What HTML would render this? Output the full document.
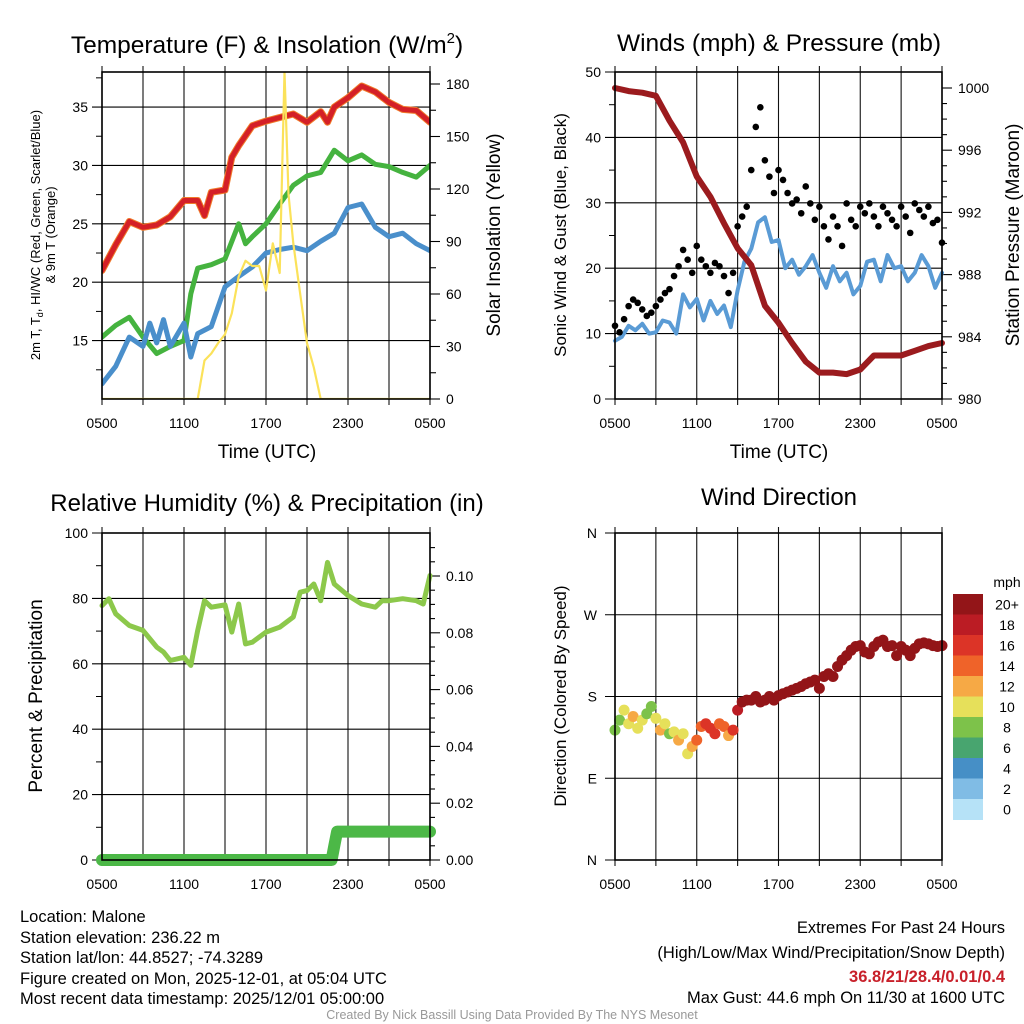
<!DOCTYPE html>
<html><head><meta charset="utf-8"><style>
html,body{margin:0;padding:0;background:#fff;}
svg{display:block;font-family:"Liberation Sans",Arial,sans-serif;}
</style></head><body>
<svg id="chart" width="1024" height="1024" viewBox="0 0 1024 1024" xmlns="http://www.w3.org/2000/svg">
<rect width="1024" height="1024" fill="#fff"/>
<g id="g1"></g>
<g id="g2"></g>
<g id="g3"></g>
<g id="g4"></g>
<g font-size="16.5" fill="#000">
<text x="20" y="922">Location: Malone</text>
<text x="20" y="943">Station elevation: 236.22 m</text>
<text x="20" y="963">Station lat/lon: 44.8527; -74.3289</text>
<text x="20" y="984">Figure created on Mon, 2025-12-01, at 05:04 UTC</text>
<text x="20" y="1004">Most recent data timestamp: 2025/12/01 05:00:00</text>
<text x="1005" y="933" text-anchor="end">Extremes For Past 24 Hours</text>
<text x="1005" y="958" text-anchor="end">(High/Low/Max Wind/Precipitation/Snow Depth)</text>
<text x="1005" y="982" text-anchor="end" fill="#c8202a" font-weight="bold">36.8/21/28.4/0.01/0.4</text>
<text x="1005" y="1003" text-anchor="end">Max Gust: 44.6 mph On 11/30 at 1600 UTC</text>
<text x="512" y="1019" text-anchor="middle" font-size="12.5" fill="#999">Created By Nick Bassill Using Data Provided By The NYS Mesonet</text>
</g>
</svg>
<script>
// ---- data ----
const xTickLabels = ["0500","1100","1700","2300","0500"];
const tHours = [0,1,2,3,4,5,6,7,7.5,8,9,9.5,10,11,12,13,14,15,16,16.5,17,18,19,20,21,22,23,24];
const tempRed = [21.0,23.2,25.2,24.7,24.9,25.6,27.0,27.0,25.7,27.7,27.9,30.7,31.7,33.4,33.8,34.1,34.4,33.7,34.6,33.7,35.0,35.8,36.8,36.3,35.4,34.8,34.7,33.7];
const gHours = [0,1,2,3,4,5,6,6.5,7,8,9,10,10.5,11,12,13,14,15,16,17,18,19,20,21,22,23,24];
const tempGreen = [15.3,16.3,17.0,15.3,13.9,14.5,15.0,19.0,21.2,21.5,22.0,25.0,23.3,23.9,25.0,26.7,28.3,29.1,29.4,31.3,30.4,30.9,30.1,29.9,29.4,29.0,30.0];
const bHours = [0,1,2,3,3.5,4,4.5,5,6,6.5,7,8,9,10,11,12,13,14,15,16,17,18,19,20,21,22,23,24];
const tempBlue = [11.3,12.8,15.3,14.5,16.5,14.8,16.8,14.5,16.5,13.6,15.6,16.2,19.6,20.5,21.3,22.5,22.8,23.0,22.7,23.5,24.2,26.4,26.7,24.7,23.9,24.2,23.3,22.7];
const sHours = [0,7,7.5,8,8.5,9,9.5,10,10.5,11,11.5,12,12.5,13,13.35,13.65,14,14.5,15,15.5,16,24];
const solar = [0,0,22,26,32,37,49,70,79,76,76,62,89,72,187,117,89,60,32,18,0,0];
const tempTicks = [15,20,25,30,35];
const solarTicks = [0,30,60,90,120,150,180];

const windHours = Array.from({length:49},(_,i)=>i/2);
const windSonic = [8.9,9.5,11.2,10.5,11.5,10,10.2,12,11.7,10,16,14,15.3,12,15,13,14.3,11,16.6,21,23,27,27.8,24,24.3,20,21.3,19,20.3,22,19.3,17,20.3,18,19.3,16,17.3,21,21.3,18,22,20,20.3,18,19.3,22,20.3,17,19.3];
const gustHours = Array.from({length:73},(_,i)=>i/3);
const windGust = [11.2,10.2,12.2,14.2,15.2,14.7,13.7,12.7,13.2,14.2,15.2,16.2,16.8,18.8,20.3,22.8,21.3,19.3,23.4,21.3,20.3,19.3,20.8,20.3,18.8,16.2,19.3,26.4,27.9,29.4,35.0,41.6,44.6,36.5,34.0,31.5,35.0,33.5,31.5,29.9,30.5,28.4,32.5,29.9,27.4,29.4,26.4,24.4,27.9,26.4,23.4,29.9,27.4,26.4,29.4,28.4,29.9,27.9,26.4,29.4,28.4,27.4,26.4,29.4,27.9,25.4,29.9,28.9,27.9,29.4,26.9,27.4,23.9];
const presHours = Array.from({length:25},(_,i)=>i);
const pressure = [1000,999.8,999.7,999.5,997.9,996.5,994.3,993.0,991.3,989.7,988.6,986.0,984.9,983.6,982.4,981.7,981.7,981.6,981.9,982.8,982.8,982.8,983.1,983.4,983.6];
const windTicks = [0,10,20,30,40,50];
const presTicks = [980,984,988,992,996,1000];

const rhHours = [0,0.5,1,2,3,4,4.5,5,6,6.5,7,7.5,8,9,9.5,10,10.5,11,12,13,14,14.5,15,15.5,16,16.5,17,18,19,20,20.5,21,22,23,23.5,24];
const rh = [77.8,79.9,75.3,71.7,70.2,65.1,63.6,61,62,59.5,70.2,79.3,77.3,78,69.7,78.3,66.1,66.6,69.7,71.2,74.3,81.9,82.4,84.4,79.3,91,84.4,80.9,78.3,77.3,79.3,79.3,79.9,79.3,78.3,87];
const precipHours = [0,16.8,17.0,17.2,24];
const precip = [0,0,0.005,0.01,0.01];
const rhTicks = [0,20,40,60,80,100];
const precipTicks = [0,0.02,0.04,0.06,0.08,0.10];

const dirHours = Array.from({length:73},(_,i)=>i/3);
const direction = [143,154,165,150,158,145,154,161,169,156,143,150,139,141,132,139,117,125,132,147,150,145,139,150,147,137,143,165,174,176,176,180,174,176,180,176,181,183,185,187,189,191,194,196,198,189,202,205,202,213,220,225,231,235,236,229,227,235,240,242,235,236,225,235,231,225,233,238,239,238,236,235,236];
const dirSpeed = [7,8,9,10,11,9,10,8,7,10,12,9,8,10,11,9,10,11,13,14,15,16,15,13,14,12,15,18,21,22,21,23,22,21,22,23,22,21,22,23,24,22,21,22,23,22,21,22,23,22,21,19,20,22,23,22,21,22,23,22,21,22,23,22,21,22,23,22,21,22,23,22,22];
const dirTickLabels = ["N","E","S","W","N"];
const cbLabels = ["20+","18","16","14","12","10","8","6","4","2","0"];
const cbColors = ["#931518","#bb1c24","#dc3427","#ef6329","#f6a945","#e6e05a","#7dc24a","#48a56f","#468fc6","#80bce5","#b6e2f7"];

// ---- helpers ----
const NS="http://www.w3.org/2000/svg";
function mk(parent,tag,attrs,text){const e=document.createElementNS(NS,tag);for(const k in attrs)e.setAttribute(k,attrs[k]);if(text!==undefined)e.textContent=text;parent.appendChild(e);return e;}
function lin(d0,d1,r0,r1){return v=>r0+(v-d0)/(d1-d0)*(r1-r0);}
function pathD(xs,ys,fx,fy){return xs.map((h,i)=>(i?"L":"M")+fx(h).toFixed(1)+","+fy(ys[i]).toFixed(1)).join("");}

function frame(g,L,R,T,B,fx,xlabels){
  for(let h=0;h<=24;h+=3){const x=fx(h);
    const gl=mk(g,"line",{x1:x,x2:x,y1:T-6,y2:B+6,stroke:"#111","stroke-width":1.1});
    
    }
  xlabels.forEach((t,i)=>{const tl=mk(g,"text",{x:fx(i*6),y:B+29,"text-anchor":"middle","font-size":14},t);
    
    });
}
function border(g,L,R,T,B){
  const r=mk(g,"rect",{x:L,y:T,width:R-L,height:B-T,fill:"none",stroke:"#000","stroke-width":1.6});
  
  
}
function hgrid(g,L,R,y,ext){const l=mk(g,"line",{x1:L-ext,x2:R,y1:y,y2:y,stroke:"#000","stroke-width":1.1});
  
  }
function rtick(g,R,y,len){mk(g,"line",{x1:R,x2:R+len,y1:y,y2:y,stroke:"#000","stroke-width":1.1});}
function ltick(g,L,y,len){mk(g,"line",{x1:L-len,x2:L,y1:y,y2:y,stroke:"#000","stroke-width":1});}
function ttl(g,x,y,txt,size,name,rot){const a={x:x,y:y,"text-anchor":"middle","font-size":size};if(rot)a.transform="rotate(-90 "+x+" "+y+")";const t=mk(g,"text",a,txt);return t;}

// ---- panel 1 ----
(function(){
  const g=document.getElementById("g1");const L=102,R=430,T=72,B=399;
  const fx=lin(0,24,L,R),fy=lin(10,38,B,T),fs=lin(0,180,B,84);
  frame(g,L,R,T,B,fx,xTickLabels);
  tempTicks.forEach(v=>{hgrid(g,L,R,fy(v),10);const t=mk(g,"text",{x:L-14,y:fy(v)+5,"text-anchor":"end","font-size":14},v);});
  for(let v=12.5;v<38;v+=5)ltick(g,L,fy(v),6);
  solarTicks.forEach(v=>{rtick(g,R,fs(v),10);const t=mk(g,"text",{x:R+16,y:fs(v)+5,"font-size":14},v);});
  for(let v=15;v<190;v+=15)if(v%30)rtick(g,R,fs(v),6);
  const cp=mk(g,"clipPath",{id:"c1"});mk(cp,"rect",{x:L,y:T,width:R-L,height:B-T});
  const pg=mk(g,"g",{"clip-path":"url(#c1)","fill":"none","stroke-linejoin":"round","stroke-linecap":"round"});
  let p=mk(pg,"path",{d:pathD(tHours,tempRed,fx,fy),stroke:"#f07a2a","stroke-width":7});
  p=mk(pg,"path",{d:pathD(tHours,tempRed,fx,fy),stroke:"#d42027","stroke-width":5});
  p=mk(pg,"path",{d:pathD(gHours,tempGreen,fx,fy),stroke:"#45b33f","stroke-width":5});
  p=mk(pg,"path",{d:pathD(bHours,tempBlue,fx,fy),stroke:"#4a8fcb","stroke-width":5});
  p=mk(pg,"path",{d:pathD(sHours,solar,fx,fs),stroke:"#fbe25a","stroke-width":2.2});
  border(g,L,R,T,B);
  const t=mk(g,"text",{x:267,y:53,"text-anchor":"middle","font-size":24.5});t.innerHTML='Temperature (F) &amp; Insolation (W/m<tspan font-size="15" dy="-10">2</tspan><tspan dy="10">)</tspan>';
  
  ttl(g,267,458,"Time (UTC)",19,"x-axis-title");
  const a=ttl(g,40,235,"",13,"temp-axis-title",true);
  a.innerHTML='2m T, T<tspan font-size="9" dy="3">d</tspan><tspan dy="-3">, HI/WC (Red, Green, Scarlet/Blue)</tspan>';
  ttl(g,55,235,"& 9m T (Orange)",13,"temp-axis-title-2",true);
  ttl(g,500,235,"Solar Insolation (Yellow)",19,"solar-axis-title",true);
})();

// ---- panel 2 ----
(function(){
  const g=document.getElementById("g2");const L=615,R=942,T=72,B=399;
  const fx=lin(0,24,L,R),fy=lin(0,50,B,T),fp=lin(980,1000,B,88);
  frame(g,L,R,T,B,fx,xTickLabels);
  windTicks.forEach(v=>{hgrid(g,L,R,fy(v),10);const t=mk(g,"text",{x:L-14,y:fy(v)+5,"text-anchor":"end","font-size":14},v);});
  for(let v=5;v<50;v+=10)ltick(g,L,fy(v),6);
  presTicks.forEach(v=>{rtick(g,R,fp(v),10);const t=mk(g,"text",{x:R+16,y:fp(v)+5,"font-size":14},v);});
  for(let v=981;v<1001;v++)if(v%4)rtick(g,R,fp(v),5);
  const pg=mk(g,"g",{"fill":"none","stroke-linejoin":"round","stroke-linecap":"round"});
  let p=mk(pg,"path",{d:pathD(windHours,windSonic,fx,fy),stroke:"#5a9bd5","stroke-width":4});
  gustHours.forEach((h,i)=>{const c=mk(g,"circle",{cx:fx(h),cy:fy(windGust[i]),r:3.3,fill:"#000"});
    
    });
  p=mk(g,"path",{d:pathD(presHours,pressure,fx,fp),stroke:"#9b1b1e","stroke-width":6,fill:"none","stroke-linejoin":"round","stroke-linecap":"round"});
  border(g,L,R,T,B);
  ttl(g,779,51,"Winds (mph) & Pressure (mb)",24.5,"winds-title");
  ttl(g,779,458,"Time (UTC)",19,"x-axis-title-2");
  ttl(g,566,235,"Sonic Wind & Gust (Blue, Black)",17,"wind-axis-title",true);
  ttl(g,1019,235,"Station Pressure (Maroon)",19,"pressure-axis-title",true);
})();

// ---- panel 3 ----
(function(){
  const g=document.getElementById("g3");const L=102,R=430,T=533,B=860;
  const fx=lin(0,24,L,R),fy=lin(0,100,B,T),fp=lin(0,0.10,B,576);
  frame(g,L,R,T,B,fx,xTickLabels);
  rhTicks.forEach(v=>{hgrid(g,L,R,fy(v),10);const t=mk(g,"text",{x:L-14,y:fy(v)+5,"text-anchor":"end","font-size":14},v);});
  for(let v=10;v<100;v+=20)ltick(g,L,fy(v),6);
  precipTicks.forEach(v=>{rtick(g,R,fp(v),10);const t=mk(g,"text",{x:R+16,y:fp(v)+5,"font-size":14},v.toFixed(2));});
  for(let v=0.005;v<0.115;v+=0.005)if(Math.round(v*1000)%20)rtick(g,R,fp(v),5);
  let p=mk(g,"path",{d:pathD(rhHours,rh,fx,fy),stroke:"#8cc84b","stroke-width":5,fill:"none","stroke-linejoin":"round","stroke-linecap":"round"});
  p=mk(g,"path",{d:pathD(precipHours,precip,fx,fp),stroke:"#4cb847","stroke-width":12,fill:"none","stroke-linejoin":"round","stroke-linecap":"round"});
  border(g,L,R,T,B);
  ttl(g,267,511,"Relative Humidity (%) & Precipitation (in)",24,"humidity-title");
  ttl(g,42,696,"Percent & Precipitation",19,"rh-axis-title",true);
})();

// ---- panel 4 ----
(function(){
  const g=document.getElementById("g4");const L=615,R=942,T=533,B=860;
  const fx=lin(0,24,L,R),fy=lin(0,360,B,T);
  frame(g,L,R,T,B,fx,xTickLabels);
  dirTickLabels.forEach((t,i)=>{hgrid(g,L,R,fy(i*90),10);const e=mk(g,"text",{x:L-18,y:fy(i*90)+5,"text-anchor":"end","font-size":14},t);});
  const col=s=>cbColors[10-Math.min(10,Math.max(0,Math.round(s/2)))];
  dirHours.forEach((h,i)=>{const c=mk(g,"circle",{cx:fx(h),cy:fy(direction[i]),r:5.5,fill:col(dirSpeed[i])});
    
    });
  border(g,L,R,T,B);
  const cbT=594,cbH=20.5;
  cbColors.forEach((c,i)=>{const r=mk(g,"rect",{x:953,y:cbT+i*cbH,width:30,height:cbH+0.5,fill:c});
    
    
    const t=mk(g,"text",{x:1007,y:cbT+i*cbH+cbH/2+5,"text-anchor":"middle","font-size":14},cbLabels[i]);
    
    });
  ttl(g,1007,587,"mph",14,"colorbar-title");
  ttl(g,779,505,"Wind Direction",24,"direction-title");
  ttl(g,566,696,"Direction (Colored By Speed)",17,"direction-axis-title",true);
})();
</script>
</body></html>
